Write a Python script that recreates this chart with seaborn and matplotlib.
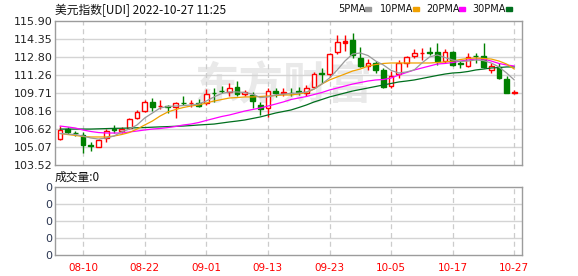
import matplotlib
matplotlib.use("Agg")
import matplotlib.pyplot as plt
import seaborn as sns
import numpy as np
import pandas as pd

# ---------------- data ----------------
title = "美元指数[UDI] 2022-10-27 11:25"
volume_title = "成交量:0"
date_labels = ["08-10", "08-22", "09-01", "09-13", "09-23", "10-05", "10-17", "10-27"]
date_label_idx = [3, 11, 19, 27, 35, 43, 51, 59]
yticks = [103.52, 105.07, 106.62, 108.16, 109.71, 111.26, 112.80, 114.35, 115.90]
vol_ticks = [0, 1, 2, 3, 4]
vol_tick_labels = ["0", "0", "0", "0", "0"]
legend_names = ["5PMA", "10PMA", "20PMA", "30PMA"]

open_ = [105.75, 106.61, 106.31, 106.10, 105.20, 105.07, 105.84, 106.61, 106.44, 106.70,
         107.56, 108.16, 108.94, 108.55, 108.55, 108.51, 108.89, 108.81, 108.85, 108.85,
         109.75, 109.92, 109.80, 110.23, 109.62, 109.54, 108.68, 108.42, 109.92, 109.75,
         109.75, 109.84, 109.71, 110.23, 111.43, 111.34, 113.24, 114.05, 114.27, 112.72,
         112.03, 112.29, 111.69, 110.27, 111.34, 112.29, 112.85, 113.15, 113.24, 113.24,
         112.46, 113.24, 112.25, 112.03, 112.89, 112.85, 111.69, 111.95, 110.91, 109.75]
close = [106.53, 106.36, 106.27, 105.24, 105.15, 105.67, 106.44, 106.57, 106.61, 107.47,
         108.08, 108.94, 108.51, 108.59, 108.51, 108.85, 108.85, 108.85, 108.59, 109.62,
         109.71, 109.88, 110.14, 109.62, 109.80, 109.02, 108.33, 109.92, 109.67, 109.80,
         109.71, 109.80, 110.18, 111.34, 111.34, 113.06, 114.09, 114.14, 112.98, 111.99,
         112.25, 111.69, 110.23, 111.21, 112.29, 112.81, 113.15, 113.19, 113.19, 112.42,
         113.24, 112.16, 112.20, 112.81, 112.85, 111.95, 111.99, 111.00, 109.75, 109.80]
high = [106.87, 106.79, 106.44, 106.36, 105.50, 105.75, 106.61, 106.96, 106.79, 107.56,
        108.25, 109.11, 109.28, 109.11, 108.68, 108.94, 109.45, 109.11, 109.19, 110.05,
        110.14, 110.27, 110.57, 110.70, 109.97, 109.80, 108.94, 110.14, 110.10, 110.14,
        110.18, 110.23, 110.40, 111.52, 111.86, 113.19, 114.70, 114.70, 114.91, 113.67,
        112.63, 112.50, 111.86, 111.60, 112.55, 112.89, 113.45, 113.58, 113.63, 114.01,
        113.45, 113.28, 112.50, 113.15, 113.15, 114.01, 112.29, 112.25, 111.13, 109.97]
low = [105.71, 106.18, 106.01, 104.55, 104.76, 105.03, 105.50, 106.27, 106.27, 106.61,
       107.47, 108.08, 108.16, 108.33, 107.99, 107.56, 108.68, 108.51, 108.51, 108.68,
       108.94, 109.71, 109.45, 109.49, 109.41, 108.42, 107.82, 107.65, 109.37, 109.45,
       109.45, 109.54, 109.45, 110.14, 110.57, 111.09, 113.02, 113.28, 112.76, 111.95,
       111.69, 111.43, 110.14, 110.14, 110.96, 111.95, 112.72, 112.55, 112.94, 112.12,
       112.29, 111.99, 111.82, 111.95, 112.29, 111.82, 111.43, 110.91, 109.71, 109.62]

ma5 = [106.23, 106.18, 106.14, 106.01, 105.84, 105.75, 105.84, 106.01, 106.36, 106.61,
       106.96, 107.56, 107.99, 108.42, 108.55, 108.59, 108.63, 108.68, 108.76, 109.02,
       109.37, 109.67, 109.80, 109.80, 109.75, 109.62, 109.32, 109.37, 109.54, 109.62,
       109.67, 109.71, 109.80, 110.05, 110.48, 111.00, 111.69, 112.46, 113.06, 113.15,
       112.93, 112.46, 112.12, 111.65, 111.43, 111.52, 111.69, 112.29, 112.81, 112.98,
       112.76, 112.55, 112.42, 112.46, 112.55, 112.50, 112.29, 111.95, 111.43, 110.83]
ma10 = [106.23, 106.14, 106.06, 105.97, 105.93, 105.93, 105.93, 106.01, 106.14, 106.31,
        106.61, 106.96, 107.30, 107.73, 108.08, 108.29, 108.46, 108.59, 108.68, 108.85,
        109.02, 109.15, 109.28, 109.32, 109.37, 109.37, 109.41, 109.45, 109.49, 109.54,
        109.54, 109.62, 109.75, 110.05, 110.48, 110.83, 111.09, 111.34, 111.60, 111.77,
        112.03, 112.16, 112.25, 112.29, 112.29, 112.29, 112.29, 112.29, 112.29, 112.33,
        112.38, 112.46, 112.59, 112.68, 112.72, 112.68, 112.63, 112.46, 112.20, 111.77]
ma20 = [106.87, 106.79, 106.70, 106.53, 106.40, 106.31, 106.27, 106.27, 106.27, 106.36,
        106.44, 106.53, 106.61, 106.66, 106.74, 106.83, 106.96, 107.04, 107.17, 107.35,
        107.52, 107.69, 107.82, 107.99, 108.16, 108.29, 108.42, 108.59, 108.76, 108.94,
        109.15, 109.28, 109.41, 109.58, 109.75, 109.97, 110.14, 110.31, 110.48, 110.61,
        110.74, 110.83, 110.87, 111.00, 111.26, 111.47, 111.69, 111.86, 112.03, 112.20,
        112.25, 112.33, 112.46, 112.55, 112.63, 112.63, 112.46, 112.25, 112.12, 112.03]
ma30 = [106.61, 106.61, 106.61, 106.61, 106.61, 106.63, 106.65, 106.67, 106.68, 106.70,
        106.72, 106.74, 106.77, 106.80, 106.82, 106.85, 106.87, 106.91, 106.96, 107.00,
        107.04, 107.13, 107.22, 107.30, 107.39, 107.52, 107.65, 107.82, 107.99, 108.12,
        108.25, 108.46, 108.68, 108.94, 109.15, 109.37, 109.54, 109.71, 109.88, 110.01,
        110.14, 110.27, 110.40, 110.53, 110.66, 110.74, 110.83, 110.96, 111.09, 111.22,
        111.34, 111.43, 111.47, 111.56, 111.69, 111.77, 111.86, 111.90, 111.95, 111.95]

# ---------------- style ----------------
sns.set_style("white")
plt.rcParams['font.family'] = ['DejaVu Sans', 'Noto Sans CJK SC']

W, H = 578, 276
fig = plt.figure(figsize=(W / 100, H / 100), dpi=100)
fig.patch.set_facecolor("white")

L, R = 55, 522
ax = fig.add_axes([L / W, 1 - 165 / H, (R - L) / W, 144 / H])
axv = fig.add_axes([L / W, 1 - 255 / H, (R - L) / W, 68 / H])

UP = "#ff0000"
DOWN = "#008000"
ma_colors = {"5PMA": "#9a9a9a", "10PMA": "#f0a000", "20PMA": "#ff00ff", "30PMA": "#006f1e"}
SPINE = "#9c9c9c"
HGRID = "#d4d4d4"
VGRID = "#cccccc"

n = len(open_)
idx = np.arange(n)

for a in (ax, axv):
    a.set_facecolor("white")
    a.set_xlim(-0.65, 60.0)
    for s in a.spines.values():
        s.set_color(SPINE)
        s.set_linewidth(1.0)
    for xi in date_label_idx:
        a.axvline(xi, color=VGRID, lw=0.9, ls=(0, (4, 3)), zorder=0.5)
    a.tick_params(axis="both", length=0, pad=2)

# watermark
ax.text(29.0, 110.3, "东方财富", fontsize=32, color="#e9e9e9", ha="center", va="center",
        family=["Noto Sans CJK SC"], fontweight="bold", zorder=0.3)

# main price panel
ax.set_ylim(yticks[0], yticks[-1])
ax.set_yticks(yticks)
ax.set_yticklabels([f"{v:.2f}" for v in yticks], fontsize=8, color="#222222")
for v in yticks[1:-1]:
    ax.axhline(v, color=HGRID, lw=1.0, zorder=0.4)
ax.set_xticks([])

# candles
for i in idx:
    o, c, h, l = open_[i], close[i], high[i], low[i]
    up = c >= o
    col = UP if up else DOWN
    ax.vlines(i, l, h, color=col, lw=1.0, zorder=3)
    bottom = min(o, c)
    height = max(abs(c - o), 0.035)
    ax.bar(i, height, bottom=bottom, width=0.62,
           facecolor=("white" if (up and abs(c - o) > 0.1) else col),
           edgecolor=col, linewidth=1.0, zorder=4)

# moving averages via seaborn
ma_df = pd.concat([
    pd.DataFrame({"idx": idx, "value": ma5, "ma": "5PMA"}),
    pd.DataFrame({"idx": idx, "value": ma10, "ma": "10PMA"}),
    pd.DataFrame({"idx": idx, "value": ma20, "ma": "20PMA"}),
    pd.DataFrame({"idx": idx, "value": ma30, "ma": "30PMA"}),
])
sns.lineplot(data=ma_df, x="idx", y="value", hue="ma", palette=ma_colors,
             hue_order=legend_names[::-1], linewidth=0.9, legend=False, ax=ax,
             zorder=5)
ax.set_xlabel("")
ax.set_ylabel("")
ax.set_xlim(-0.65, 60.0)
ax.set_ylim(yticks[0], yticks[-1])

# volume panel
axv.set_ylim(vol_ticks[0], vol_ticks[-1])
axv.set_yticks(vol_ticks)
axv.set_yticklabels(vol_tick_labels, fontsize=8, color="#2a3550")
for v in vol_ticks[1:-1]:
    axv.axhline(v, color=HGRID, lw=1.0, zorder=0.4)
axv.set_xticks(date_label_idx)
axv.set_xticklabels(date_labels, fontsize=7.5, color="#ff0000")
axv.tick_params(axis="x", pad=6)

# texts
fig.text(L / W, 1 - 10 / H, title, fontsize=8.5, color="#111111", va="center", ha="left",
         family=["Noto Sans CJK SC", "DejaVu Sans"])
fig.text(L / W, 1 - 177 / H, volume_title, fontsize=8.5, color="#111111", va="center", ha="left",
         family=["Noto Sans CJK SC", "DejaVu Sans"])

# legend
leg_x = [338, 380, 426, 472]
sq_x = [365, 413, 459, 506]
for name, tx, sx in zip(legend_names, leg_x, sq_x):
    fig.text(tx / W, 1 - 9 / H, name, fontsize=7, color="#111111", va="center", ha="left")
    fig.patches.append(plt.Rectangle((sx / W, 1 - 11 / H), 6 / W, 4 / H,
                                     transform=fig.transFigure, color=ma_colors[name],
                                     figure=fig))

fig.savefig("out.png", dpi=100, facecolor="white")
